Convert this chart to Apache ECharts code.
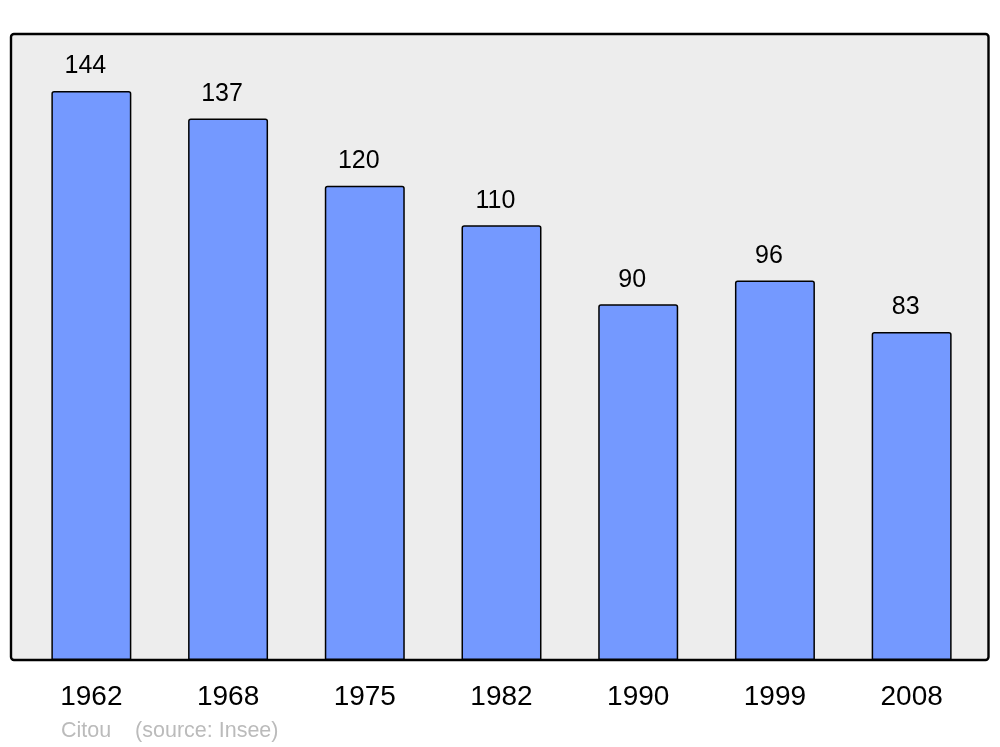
<!DOCTYPE html>
<html>
<head>
<meta charset="utf-8">
<script src="https://cdn.jsdelivr.net/npm/echarts@6/dist/echarts.min.js"></script>
<style>html,body{margin:0;padding:0;background:#fff;}#c{width:1000px;height:747px;}</style>
</head>
<body>
<div id="c"></div>
<script>
var years = ['1962', '1968', '1975', '1982', '1990', '1999', '2008'];
var population = [144, 137, 120, 110, 90, 96, 83];
var sourceText = 'Citou    (source: Insee)';

var chart = echarts.init(document.getElementById('c'), null, {renderer: 'canvas'});
chart.setOption({
  backgroundColor: '#ffffff',
  animation: false,
  graphic: [
    {type: 'rect', z: -10, silent: true,
     shape: {x: 11, y: 34, width: 977.5, height: 626, r: 3},
     style: {fill: '#ededed', stroke: '#000', lineWidth: 2.4}},
    {type: 'text', left: 61, top: 720,
     style: {text: sourceText, fill: '#bbbbbb', font: '21.5px "Liberation Sans", Arial, sans-serif'}}
  ],
  grid: {left: 23, right: 20, top: 34, bottom: 87, containLabel: false},
  xAxis: {
    type: 'category', data: years, boundaryGap: true,
    axisLine: {show: false}, axisTick: {show: false},
    axisLabel: {margin: 23, color: '#000', fontSize: 28, fontFamily: '"Liberation Sans", Arial, sans-serif'}
  },
  yAxis: {
    type: 'value', min: 0, max: 158.4,
    axisLine: {show: false}, axisTick: {show: false}, axisLabel: {show: false}, splitLine: {show: false}
  },
  series: [{
    type: 'bar', data: population, barWidth: '58.5%',
    itemStyle: {color: '#7499ff', borderColor: '#000', borderWidth: 1.5, borderRadius: [2, 2, 0, 0]},
    label: {show: true, position: 'top', distance: 12, offset: [-6, 0], color: '#000',
            fontSize: 25, fontFamily: '"Liberation Sans", Arial, sans-serif'}
  }]
});
</script>
</body>
</html>
